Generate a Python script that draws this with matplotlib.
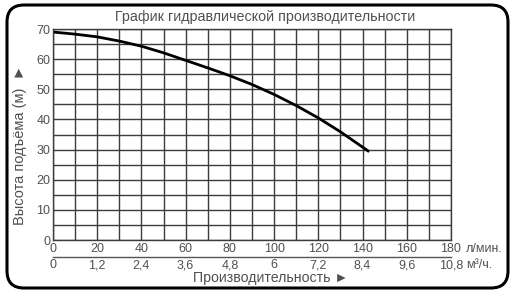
import matplotlib.pyplot as plt
from matplotlib.patches import FancyBboxPatch

plt.rcParams['font.family'] = ['Liberation Sans', 'DejaVu Sans']

# данные кривой (л/мин -> м)
flow = [0, 10, 20, 30, 40, 50, 60, 70, 80, 90, 100, 110, 120, 130, 143]
head = [69, 68.3, 67.4, 66.0, 64.3, 62.1, 59.6, 57.1, 54.5, 51.6, 48.3, 44.6, 40.5, 35.9, 29.3]

lpm_ticks = [0, 20, 40, 60, 80, 100, 120, 140, 160, 180]
m3h_labels = ['0', '1,2', '2,4', '3,6', '4,8', '6', '7,2', '8,4', '9,6', '10,8']
h_ticks = [0, 10, 20, 30, 40, 50, 60, 70]

txt = '#505050'
grid_c = '#3c3c3c'
fs_tick = 9

fig = plt.figure(figsize=(5.17, 2.98), dpi=100)
ax = fig.add_axes([0.1025, 0.1946, 0.7698, 0.708])

ax.set_xlim(0, 180)
ax.set_ylim(0, 70)
ax.set_xticks(range(0, 181, 10), minor=True)
ax.set_yticks(range(0, 71, 5), minor=True)
ax.set_xticks(lpm_ticks)
ax.set_yticks(h_ticks)
ax.grid(True, which='both', color=grid_c, lw=1.0)
ax.set_axisbelow(True)
for s in ax.spines.values():
    s.set_color(grid_c)
    s.set_linewidth(1.0)
ax.tick_params(which='both', length=0, labelsize=fs_tick, labelcolor=txt, pad=2)

ax.plot(flow, head, color='black', lw=2.0, solid_capstyle='butt')

# вторая шкала м3/ч
sec = ax.secondary_xaxis(-0.0806, functions=(lambda x: x * 0.06, lambda x: x / 0.06))
sec.set_xticks([t * 0.06 for t in lpm_ticks], m3h_labels)
sec.tick_params(length=0, labelsize=fs_tick, labelcolor=txt, pad=1.5)
sec.spines['bottom'].set_color('#555555')
sec.spines['bottom'].set_linewidth(1.0)

# единицы
ax.annotate('л/мин.', xy=(180, 0), xycoords=ax.get_xaxis_transform(),
            xytext=(11, -2), textcoords='offset points', ha='left', va='top',
            fontsize=fs_tick, color=txt, annotation_clip=False)
ax.annotate('м³/ч.', xy=(180, -0.0806), xycoords=ax.get_xaxis_transform(),
            xytext=(11, -1.5), textcoords='offset points', ha='left', va='top',
            fontsize=fs_tick, color=txt, annotation_clip=False)

ax.text(0.548, -0.18, 'Производительность ►', transform=ax.transAxes,
        ha='center', va='center', fontsize=10.2, color=txt)
ax.text(-0.083, 0.45, 'Высота подъёма (м)  ►', transform=ax.transAxes,
        ha='center', va='center', rotation=90, fontsize=10.5, color=txt)
fig.text(265 / 517, 1 - 17 / 298, 'График гидравлической производительности',
         ha='center', va='center', fontsize=10.3, color=txt)

frame = FancyBboxPatch((0.07, 0.10), 5.01, 2.83, boxstyle='round,pad=0,rounding_size=0.17',
                       transform=fig.dpi_scale_trans, fill=False, ec='black', lw=2.2)
fig.patches.append(frame)

fig.savefig('out.png', dpi=100)
